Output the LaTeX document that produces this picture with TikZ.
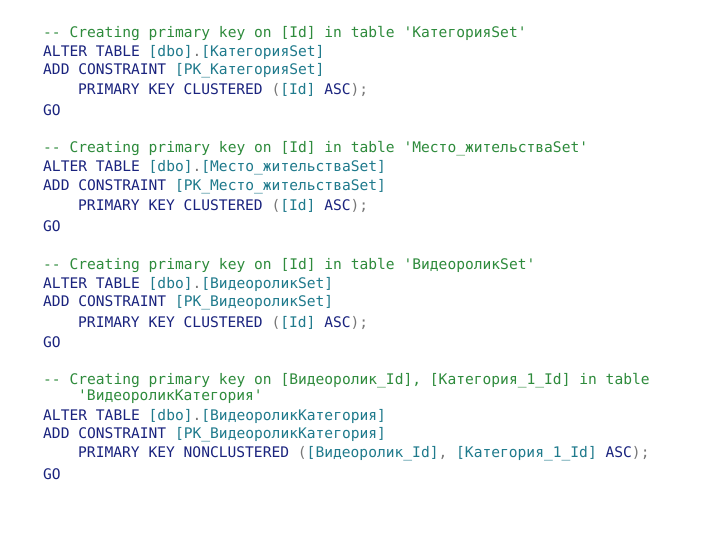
\documentclass[tikz,border=0pt]{standalone}
\usepackage{fontspec}
\newfontfamily\code{DejaVu Sans Mono}
\definecolor{cmc}{HTML}{2E8B3C}
\definecolor{kwc}{HTML}{1A237E}
\definecolor{idc}{HTML}{1F7A8C}
\definecolor{puc}{HTML}{777777}
\newcommand\kw[1]{\textcolor{kwc}{#1}}
\newcommand\idt[1]{\textcolor{idc}{#1}}
\newcommand\cm[1]{\textcolor{cmc}{#1}}
\newcommand\pu[1]{\textcolor{puc}{#1}}
\begin{document}
\begin{tikzpicture}[x=1bp,y=-1bp,
  ln/.style={anchor=west,inner sep=0pt,font=\code\fontsize{14.6bp}{16bp}\selectfont}]
\useasboundingbox[fill=white] (0,0) rectangle (720,540);
\begin{scope}[yshift=-2bp]
% block 1
\node[ln] (a1) at (43,31) {\cm{-- Creating primary key on [Id] in table 'КатегорияSet'}};
\node[ln] (a2) at (43,50) {\kw{ALTER TABLE} \idt{[dbo]}\pu{.}\idt{[КатегорияSet]}};
\node[ln] (a3) at (43,69) {\kw{ADD CONSTRAINT} \idt{[PK\_КатегорияSet]}};
\node[ln] (a4) at (78,88) {\kw{PRIMARY KEY CLUSTERED} \pu{(}\idt{[Id]} \kw{ASC}\pu{);}};
\node[ln] (a5) at (43,108) {\kw{GO}};
% block 2
\node[ln] (b1) at (43,147) {\cm{-- Creating primary key on [Id] in table 'Место\_жительстваSet'}};
\node[ln] (b2) at (43,166) {\kw{ALTER TABLE} \idt{[dbo]}\pu{.}\idt{[Место\_жительстваSet]}};
\node[ln] (b3) at (43,185) {\kw{ADD CONSTRAINT} \idt{[PK\_Место\_жительстваSet]}};
\node[ln] (b4) at (78,204) {\kw{PRIMARY KEY CLUSTERED} \pu{(}\idt{[Id]} \kw{ASC}\pu{);}};
\node[ln] (b5) at (43,224) {\kw{GO}};
% block 3
\node[ln] (c1) at (43,263) {\cm{-- Creating primary key on [Id] in table 'ВидеороликSet'}};
\node[ln] (c2) at (43,282) {\kw{ALTER TABLE} \idt{[dbo]}\pu{.}\idt{[ВидеороликSet]}};
\node[ln] (c3) at (43,301) {\kw{ADD CONSTRAINT} \idt{[PK\_ВидеороликSet]}};
\node[ln] (c4) at (78,321) {\kw{PRIMARY KEY CLUSTERED} \pu{(}\idt{[Id]} \kw{ASC}\pu{);}};
\node[ln] (c5) at (43,340) {\kw{GO}};
% block 4
\node[ln] (d1) at (43,379) {\cm{-- Creating primary key on [Видеоролик\_Id], [Категория\_1\_Id] in table}};
\node[ln] (d2) at (78,395) {\cm{'ВидеороликКатегория'}};
\node[ln] (d3) at (43,414) {\kw{ALTER TABLE} \idt{[dbo]}\pu{.}\idt{[ВидеороликКатегория]}};
\node[ln] (d4) at (43,433) {\kw{ADD CONSTRAINT} \idt{[PK\_ВидеороликКатегория]}};
\node[ln] (d5) at (78,452) {\kw{PRIMARY KEY NONCLUSTERED} \pu{(}\idt{[Видеоролик\_Id]}\pu{,} \idt{[Категория\_1\_Id]} \kw{ASC}\pu{);}};
\node[ln] (d6) at (43,472) {\kw{GO}};
\end{scope}
\end{tikzpicture}
\end{document}
